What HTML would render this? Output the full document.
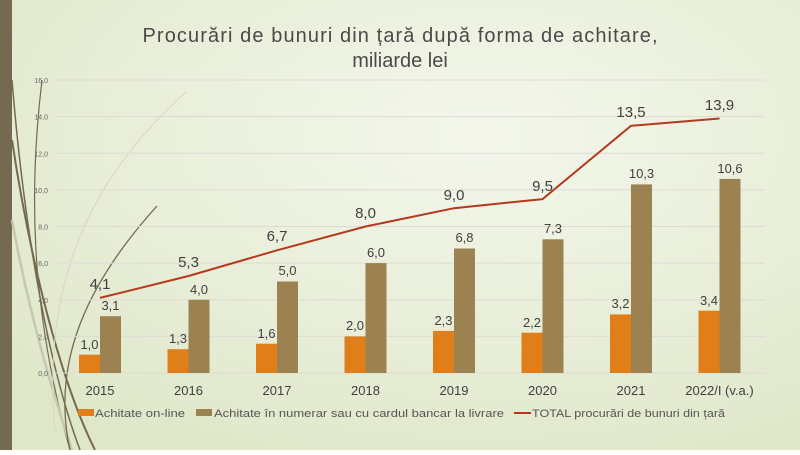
<!DOCTYPE html>
<html><head><meta charset="utf-8"><style>
body{margin:0;width:800px;height:450px;overflow:hidden;font-family:"Liberation Sans",sans-serif}
</style></head><body>
<svg width="800" height="450" xmlns="http://www.w3.org/2000/svg" font-family="Liberation Sans, sans-serif">
<defs>
<radialGradient id="bg" cx="0.6" cy="0.3" r="0.8">
<stop offset="0" stop-color="#f4f7ec"/><stop offset="1" stop-color="#dfe7c9"/>
</radialGradient>
</defs>
<rect width="800" height="450" fill="url(#bg)"/>
<rect width="12" height="450" fill="#736a50"/>
<g fill="none">
<path d="M42 80 C30 180 28 300 70 450" stroke="#736a50" stroke-width="1.2"/>
<path d="M12 140 C30 260 60 380 95 450" stroke="#736a50" stroke-width="2"/>
<path d="M12 80 C25 240 50 370 80 450" stroke="#736a50" stroke-width="1.5"/>
<path d="M12 220 C30 320 55 400 72 450" stroke="#c9c7b0" stroke-width="2.5"/>
<path d="M186 92 C100 170 40 270 55 430" stroke="#d8d6c4" stroke-width="1"/>
<path d="M157 206 C90 280 50 360 70 450" stroke="#736a50" stroke-width="1.3"/>
</g>
<text x="400" y="42" text-anchor="middle" font-size="20" fill="#4a4a4a" textLength="515">Procurări de bunuri din țară după forma de achitare,</text>
<text x="400" y="67" text-anchor="middle" font-size="20" fill="#4a4a4a">miliarde lei</text>
<g stroke="#dcdcd6" stroke-width="1">
<line x1="56" x2="765" y1="80" y2="80"/><line x1="56" x2="765" y1="116.6" y2="116.6"/>
<line x1="56" x2="765" y1="153.3" y2="153.3"/><line x1="56" x2="765" y1="189.9" y2="189.9"/>
<line x1="56" x2="765" y1="226.5" y2="226.5"/><line x1="56" x2="765" y1="263.1" y2="263.1"/>
<line x1="56" x2="765" y1="299.8" y2="299.8"/><line x1="56" x2="765" y1="336.4" y2="336.4"/>
<line x1="56" x2="765" y1="373" y2="373"/>
</g>
<g font-size="7" fill="#666" text-anchor="end">
<text x="48" y="83">16,0</text><text x="48" y="119.6">14,0</text><text x="48" y="156.3">12,0</text>
<text x="48" y="192.9">10,0</text><text x="48" y="229.5">8,0</text><text x="48" y="266.1">6,0</text>
<text x="48" y="302.8">4,0</text><text x="48" y="339.4">2,0</text><text x="48" y="376">0,0</text>
</g>
<g font-size="13" fill="#404040" text-anchor="middle">
<text x="100" y="395">2015</text><text x="188.5" y="395">2016</text><text x="277" y="395">2017</text>
<text x="365.5" y="395">2018</text><text x="454" y="395">2019</text><text x="542.5" y="395">2020</text>
<text x="631" y="395">2021</text><text x="719.5" y="395">2022/I (v.a.)</text>
</g>
<g fill="#e07f1a">
<rect x="79" y="354.7" width="21" height="18.3"/>
<rect x="167.5" y="349.2" width="21" height="23.8"/>
<rect x="256" y="343.7" width="21" height="29.3"/>
<rect x="344.5" y="336.4" width="21" height="36.6"/>
<rect x="433" y="330.9" width="21" height="42.1"/>
<rect x="521.5" y="332.7" width="21" height="40.3"/>
<rect x="610" y="314.4" width="21" height="58.6"/>
<rect x="698.5" y="310.7" width="21" height="62.3"/>
</g>
<g fill="#9c8250">
<rect x="100" y="316.2" width="21" height="56.8"/>
<rect x="188.5" y="299.8" width="21" height="73.2"/>
<rect x="277" y="281.5" width="21" height="91.5"/>
<rect x="365.5" y="263.1" width="21" height="109.9"/>
<rect x="454" y="248.5" width="21" height="124.5"/>
<rect x="542.5" y="239.3" width="21" height="133.7"/>
<rect x="631" y="184.4" width="21" height="188.6"/>
<rect x="719.5" y="178.9" width="21" height="194.1"/>
</g>
<polyline fill="none" stroke="#b5391c" stroke-width="2" points="100,297.9 188.5,276 277,250.3 365.5,226.5 454,208.2 542.5,199.1 631,125.8 719.5,118.5"/>
<g font-size="13" fill="#404040" text-anchor="middle">
<text x="89.5" y="349">1,0</text><text x="178" y="343">1,3</text><text x="266.5" y="338">1,6</text>
<text x="355" y="330">2,0</text><text x="443.5" y="325">2,3</text><text x="532" y="327">2,2</text>
<text x="620.5" y="308">3,2</text><text x="709" y="305">3,4</text>
<text x="110.5" y="310">3,1</text><text x="199" y="294">4,0</text><text x="287.5" y="275">5,0</text>
<text x="376" y="257">6,0</text><text x="464.5" y="242">6,8</text><text x="553" y="233">7,3</text>
<text x="641.5" y="178">10,3</text><text x="730" y="173">10,6</text>
</g>
<g font-size="15" fill="#404040" text-anchor="middle">
<text x="100" y="289">4,1</text><text x="188.5" y="267">5,3</text><text x="277" y="241">6,7</text>
<text x="365.5" y="218">8,0</text><text x="454" y="200">9,0</text><text x="542.5" y="191">9,5</text>
<text x="631" y="117">13,5</text><text x="719.5" y="110">13,9</text>
</g>
<g font-size="11" fill="#555">
<rect x="78" y="409" width="16" height="7" fill="#e07f1a"/><text x="95" y="417" textLength="90" lengthAdjust="spacingAndGlyphs">Achitate on-line</text>
<rect x="196" y="409" width="16" height="7" fill="#9c8250"/><text x="214" y="417" textLength="290" lengthAdjust="spacingAndGlyphs">Achitate în numerar sau cu cardul bancar la livrare</text>
<line x1="514" x2="531" y1="413" y2="413" stroke="#b5391c" stroke-width="2"/><text x="532" y="417" textLength="193" lengthAdjust="spacingAndGlyphs">TOTAL procurări de bunuri din țară</text>
</g>
</svg>
</body></html>
